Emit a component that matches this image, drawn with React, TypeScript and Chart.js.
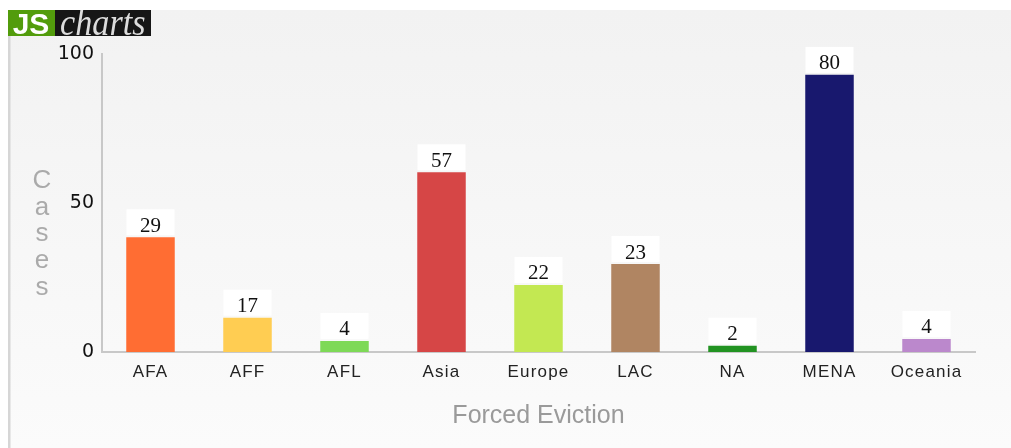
import React, { useEffect, useRef } from 'react';
import { Chart, registerables } from 'chart.js';

Chart.register(...registerables);

const categories = ['AFA', 'AFF', 'AFL', 'Asia', 'Europe', 'LAC', 'NA', 'MENA', 'Oceania'];
const barHeights = [38.5, 11.5, 3.7, 60.3, 22.5, 29.5, 2.1, 93, 4.4];
const valueLabels = [29, 17, 4, 57, 22, 23, 2, 80, 4];
const barColors = ['#ff6d33', '#ffcd52', '#7ed957', '#d64646', '#c3e852', '#b08562', '#229322', '#18186e', '#bb88cc'];
const yTicks = [0, 50, 100];
const yTitle = 'Cases';
const xTitle = 'Forced Eviction';
const logoLeft = 'JS';
const logoRight = 'charts';

const decorPlugin = {
  id: 'decor',
  afterUpdate(chart: any) {
    const xs = chart.scales.x;
    if (xs && !xs.__spaced) {
      const orig = xs.drawLabels.bind(xs);
      xs.drawLabels = (area: any) => {
        const c = chart.ctx;
        c.save();
        (c as any).letterSpacing = '1.2px';
        orig(area);
        c.restore();
      };
      xs.__spaced = true;
    }
  },
  beforeDraw(chart: any) {
    const ctx = chart.ctx;
    const W = chart.width;
    const H = chart.height;
    ctx.save();
    ctx.fillStyle = '#ffffff';
    ctx.fillRect(0, 0, W, H);
    const g = ctx.createLinearGradient(0, 10, 0, H);
    g.addColorStop(0, '#f2f2f2');
    g.addColorStop(1, '#fbfbfb');
    ctx.fillStyle = g;
    ctx.fillRect(8, 10, W - 8, H - 10);
    ctx.fillStyle = '#d6d6d6';
    ctx.fillRect(8, 36, 2.5, H - 36);
    // logo
    ctx.fillStyle = '#529c0c';
    ctx.fillRect(8, 10, 47, 26);
    ctx.fillStyle = '#161616';
    ctx.fillRect(55, 10, 96, 26);
    ctx.beginPath();
    ctx.rect(8, 10, 143, 26);
    ctx.clip();
    ctx.fillStyle = '#ffffff';
    ctx.font = 'bold 30px "Liberation Sans"';
    ctx.textAlign = 'center';
    ctx.textBaseline = 'alphabetic';
    ctx.fillText(logoLeft, 31, 34);
    ctx.fillStyle = '#dcdcdc';
    ctx.font = 'italic 38px "Liberation Serif"';
    ctx.textAlign = 'left';
    ctx.save();
    ctx.translate(60, 35);
    ctx.scale(0.9, 1);
    ctx.fillText(logoRight, 0, 0);
    ctx.restore();
    ctx.restore();
  },
  afterDatasetsDraw(chart: any) {
    const ctx = chart.ctx;
    const meta = chart.getDatasetMeta(0);
    ctx.save();
    meta.data.forEach((el: any, i: number) => {
      const x = el.x;
      const top = el.y;
      ctx.fillStyle = '#ffffff';
      ctx.fillRect(x - 24, top - 28, 48, 26);
      ctx.fillStyle = '#111111';
      ctx.font = '21px "Liberation Serif"';
      ctx.textAlign = 'center';
      ctx.textBaseline = 'middle';
      ctx.fillText(String(valueLabels[i]), x, top - 11);
    });
    // stacked y title
    ctx.fillStyle = '#aaaaaa';
    ctx.font = '26px "Liberation Sans"';
    ctx.textAlign = 'center';
    ctx.textBaseline = 'middle';
    yTitle.split('').forEach((ch, i) => {
      ctx.fillText(ch, 42, 181 + i * 26.6);
    });
    ctx.restore();
  },
};

export default function App() {
  const ref = useRef<HTMLCanvasElement>(null);
  useEffect(() => {
    if (!ref.current) return;
    const chart = new Chart(ref.current, {
      type: 'bar',
      data: {
        labels: categories,
        datasets: [
          {
            data: barHeights,
            backgroundColor: barColors,
            borderWidth: 0,
            barPercentage: 0.5,
            categoryPercentage: 1.0,
          },
        ],
      },
      options: {
        responsive: false,
        animation: false,
        devicePixelRatio: 1,
        layout: { padding: { left: 0, right: 36, top: 54, bottom: 0 } },
        plugins: { legend: { display: false }, tooltip: { enabled: false } },
        scales: {
          x: {
            grid: { display: false, drawTicks: false },
            border: { display: true, color: '#c8c8c8', width: 2 },
            ticks: {
              color: '#222222',
              font: { family: 'Liberation Sans', size: 17 },
              padding: 10,
              autoSkip: false,
              maxRotation: 0,
            },
            title: {
              display: true,
              text: xTitle,
              color: '#9a9a9a',
              font: { family: 'Liberation Sans', size: 25 },
              padding: { top: 0, bottom: 17 },
            },
            afterFit: (s: any) => {
              s.height = 96;
            },
          },
          y: {
            min: 0,
            max: 100,
            grid: { display: false, drawTicks: false },
            border: { display: true, color: '#c8c8c8', width: 2 },
            ticks: {
              color: '#111111',
              font: { family: 'DejaVu Sans', size: 19 },
              padding: 8,
            },
            afterBuildTicks: (s: any) => {
              s.ticks = yTicks.map((v) => ({ value: v }));
            },
            afterFit: (s: any) => {
              s.width = 102;
            },
          },
        },
      },
      plugins: [decorPlugin],
    });
    return () => chart.destroy();
  }, []);
  return (
    <div style={{ position: 'absolute', left: 0, top: 0, width: 1011, height: 448 }}>
      <canvas ref={ref} width={1011} height={448} style={{ display: 'block' }} />
    </div>
  );
}
